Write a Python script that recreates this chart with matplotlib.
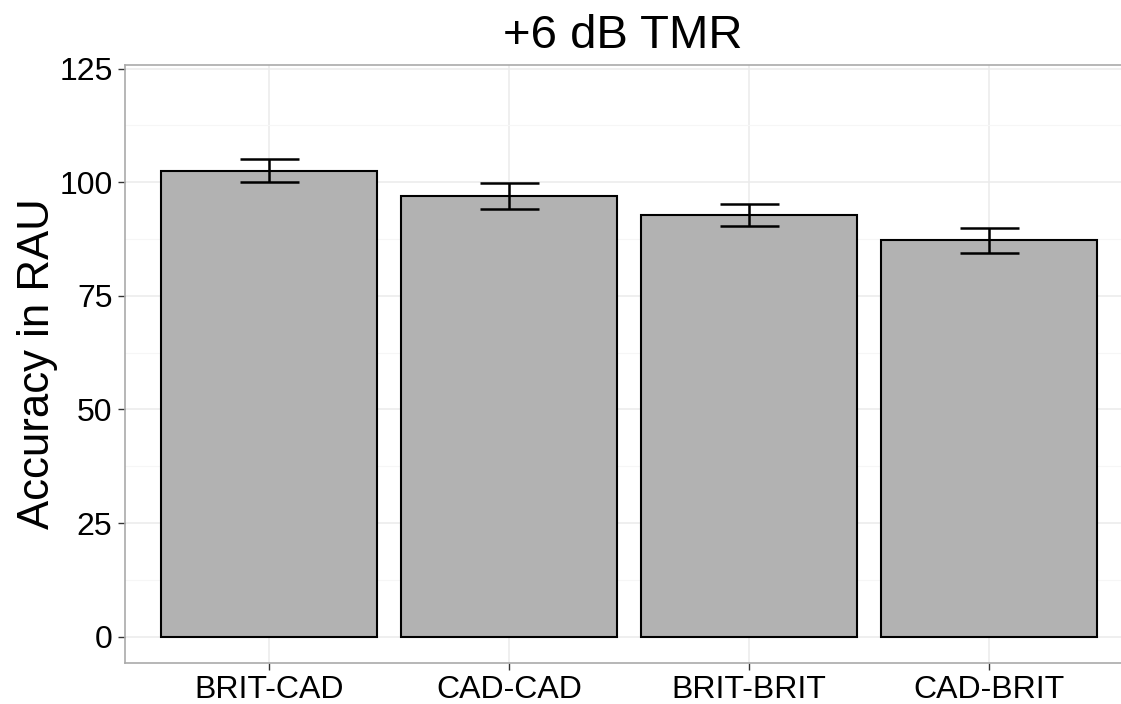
import matplotlib
matplotlib.use('Agg')
import matplotlib.pyplot as plt
from matplotlib.ticker import MultipleLocator

plt.rcParams['font.family'] = ['Liberation Sans', 'DejaVu Sans']

# data
groups = ['BRIT-CAD', 'CAD-CAD', 'BRIT-BRIT', 'CAD-BRIT']
accuracy = [102.5, 97.0, 92.8, 87.2]
err = [2.55, 2.8, 2.5, 2.75]

fig = plt.figure(figsize=(11.21, 7.04), dpi=100)
ax = fig.add_axes([125 / 1121, 41 / 704, 996 / 1121, 598 / 704])

x = list(range(1, len(groups) + 1))
ax.bar(x, accuracy, width=0.9, color='#b2b2b2', edgecolor='black',
       linewidth=1.5, zorder=3)
ax.errorbar(x, accuracy, yerr=err, fmt='none', ecolor='black',
            elinewidth=1.8, capsize=29.5 * 72 / 100, capthick=1.8, zorder=4)

ax.set_xlim(0.4, 4.549)
ax.set_ylim(-5.8, 125.8)
ax.set_xticks(x)
ax.set_xticklabels(groups)
ax.yaxis.set_major_locator(MultipleLocator(25))
ax.yaxis.set_minor_locator(MultipleLocator(12.5))

ax.grid(which='major', color='#ebebeb', linewidth=1.1, zorder=0)
ax.grid(which='minor', axis='y', color='#f6f6f6', linewidth=0.8, zorder=0)
ax.tick_params(axis='both', which='major', labelsize=23, length=5,
               width=1, color='#333333', pad=4)
ax.tick_params(which='minor', length=0)

for side in ['left', 'bottom', 'top']:
    ax.spines[side].set_color('#aaaaaa')
    ax.spines[side].set_linewidth(1.2)
ax.spines['right'].set_visible(False)

ax.set_ylabel('Accuracy in RAU', fontsize=31.5, labelpad=1)
ax.set_title('+6 dB TMR', fontsize=34, pad=12)

fig.savefig('out.png', dpi=100)
